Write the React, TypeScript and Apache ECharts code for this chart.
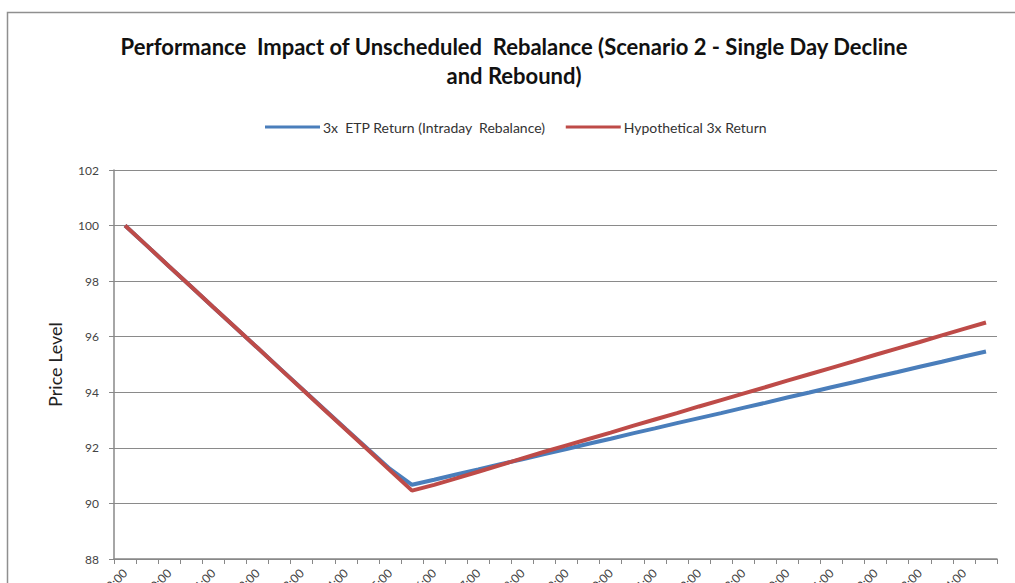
import React, { useEffect, useRef } from "react";
import * as echarts from "echarts";

const categories: string[] = [
  "9:00", "9:30", "10:00", "10:30", "11:00", "11:30", "12:00", "12:30",
  "13:00", "13:30", "14:00", "14:30", "15:00", "15:30", "16:00", "16:30",
  "17:00", "17:30", "18:00", "18:30", "19:00", "19:30", "20:00", "20:30",
  "21:00", "21:30", "22:00", "22:30", "23:00", "23:30", "0:00", "0:30",
  "1:00", "1:30", "2:00", "2:30", "3:00", "3:30", "4:00", "4:30",
];

const etpReturn: number[] = [
  100, 99.27, 98.53, 97.8, 97.06, 96.33, 95.6, 94.87, 94.14, 93.41, 92.68, 91.96, 91.24, 90.67,
  90.85, 91.04, 91.22, 91.41, 91.59, 91.78, 91.96, 92.15, 92.33, 92.52, 92.7, 92.89, 93.07,
  93.25, 93.44, 93.62, 93.81, 93.99, 94.18, 94.36, 94.55, 94.73, 94.92, 95.1, 95.29, 95.47,
];

const hypotheticalReturn: number[] = [
  100, 99.27, 98.53, 97.8, 97.06, 96.33, 95.6, 94.86, 94.13, 93.39, 92.66, 91.93, 91.19, 90.46,
  90.67, 90.9, 91.14, 91.38, 91.62, 91.86, 92.09, 92.32, 92.55, 92.79, 93.02, 93.25, 93.49,
  93.72, 93.95, 94.18, 94.42, 94.65, 94.88, 95.11, 95.35, 95.58, 95.81, 96.05, 96.28, 96.51,
];

const seriesNames: string[] = ["3x  ETP Return (Intraday  Rebalance)", "Hypothetical 3x Return"];
const titleText = "Performance  Impact of Unscheduled  Rebalance (Scenario 2 - Single Day Decline\nand Rebound)";

export default function App() {
  const ref = useRef<HTMLDivElement>(null);
  useEffect(() => {
    document.body.style.margin = "0";
    if (!ref.current) return;
    const chart = echarts.init(ref.current, undefined, { renderer: "svg" });
    chart.setOption({
      animation: false,
      backgroundColor: "#ffffff",
      graphic: [
        {
          type: "rect",
          shape: { x: 7.5, y: 12.5, width: 1100, height: 700 },
          style: { fill: "none", stroke: "#8f8f8f", lineWidth: 1.5 },
          silent: true,
        },
        {
          type: "text",
          x: 514,
          y: 32,
          style: {
            text: titleText,
            textAlign: "center",
            fontFamily: "Lato",
            fontWeight: "bold",
            fontSize: 22,
            lineHeight: 29,
            fill: "#111111",
          },
        },
      ],
      legend: {
        top: 115,
        left: 260,
        itemWidth: 55,
        itemHeight: 3,
        itemGap: 20,
        icon: "rect",
        textStyle: { fontFamily: "Lato", fontSize: 14, color: "#333333", padding: [0, 0, 0, -2] },
        data: seriesNames,
      },
      grid: { left: 114, right: 18, top: 170, bottom: 24, containLabel: false, outerBoundsMode: "none" },
      xAxis: {
        type: "category",
        data: categories,
        boundaryGap: true,
        axisLine: { lineStyle: { color: "#888888", width: 1.5 } },
        axisTick: { show: true, interval: 0, length: 5, lineStyle: { color: "#888888" } },
        axisLabel: {
          interval: 1,
          rotate: 45,
          fontSize: 12,
          color: "#444444",
          fontFamily: "Lato",
          margin: 12,
        },
        splitLine: { show: false },
      },
      yAxis: {
        type: "value",
        min: 88,
        max: 102,
        interval: 2,
        name: "Price Level",
        nameLocation: "middle",
        nameRotate: 90,
        nameGap: 50,
        nameTextStyle: { fontFamily: "Lato", fontSize: 18, color: "#222222" },
        axisLine: { show: true, lineStyle: { color: "#888888", width: 1.5 } },
        axisTick: { show: true, length: 5, lineStyle: { color: "#888888" } },
        axisLabel: { fontSize: 12, color: "#444444", fontFamily: "Lato", margin: 15 },
        splitLine: { show: true, lineStyle: { color: "#8a8a8a", width: 1 } },
      },
      series: [
        {
          name: seriesNames[0],
          type: "line",
          data: etpReturn,
          symbol: "none",
          lineStyle: { color: "#4a7ebb", width: 4 },
          itemStyle: { color: "#4a7ebb" },
        },
        {
          name: seriesNames[1],
          type: "line",
          data: hypotheticalReturn,
          symbol: "none",
          lineStyle: { color: "#be4b48", width: 4 },
          itemStyle: { color: "#be4b48" },
        },
      ],
    });
    return () => chart.dispose();
  }, []);
  return <div ref={ref} style={{ width: 1015, height: 583 }} />;
}
